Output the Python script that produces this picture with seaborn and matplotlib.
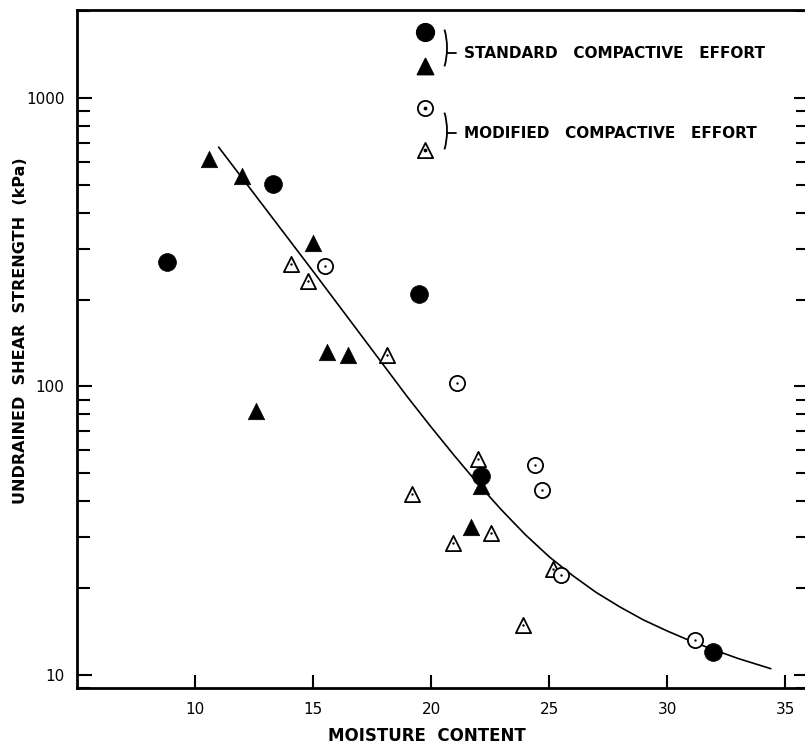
"""Undrained shear strength vs moisture content, standard vs modified compaction."""
import matplotlib
matplotlib.use("Agg")
import matplotlib.pyplot as plt
from matplotlib.patches import Arc
from matplotlib.ticker import LogLocator, NullFormatter, FixedLocator, FixedFormatter
import pandas as pd
import seaborn as sns

# ── data ────────────────────────────────────────────────────────────────────
std_circle_x = [8.8, 13.3, 19.5, 22.1, 31.95]
std_circle_y = [270, 505, 210, 49, 12.0]
std_tri_x = [10.6, 12.0, 15.0, 15.6, 16.5, 12.6, 21.7, 22.1]
std_tri_y = [614, 536, 314, 132, 129, 82, 32.6, 45]
mod_circle_x = [15.5, 21.1, 24.4, 24.7, 25.5, 31.2]
mod_circle_y = [261, 103, 53.6, 43.9, 22.1, 13.2]
mod_tri_x = [14.05, 14.8, 18.15, 19.2, 22.0, 20.95, 22.55, 25.15, 23.9]
mod_tri_y = [265, 232, 129, 42.2, 55.8, 28.7, 31.1, 23.2, 14.9]

# hand-drawn trend curve
curve_x = [11.0, 13.0, 15.0, 17.0, 19.0, 20.0, 21.0, 22.0, 23.0, 24.0,
           25.0, 26.0, 27.0, 28.0, 29.0, 30.0, 31.0, 32.0, 33.0, 34.4]
curve_y = [676, 412, 251, 152, 92, 72.4, 57.4, 45.9, 37.2, 30.6,
           25.7, 22.1, 19.3, 17.2, 15.5, 14.2, 13.1, 12.2, 11.4, 10.5]

x_ticks = [10, 15, 20, 25, 30, 35]
y_ticks = [10, 100, 1000]
y_ticklabels = ["10", "100", "1000"]

XLABEL = "MOISTURE  CONTENT"
YLABEL = "UNDRAINED  SHEAR  STRENGTH  (kPa)"
LEG_STD = "STANDARD   COMPACTIVE   EFFORT"
LEG_MOD = "MODIFIED   COMPACTIVE   EFFORT"

# ── style ───────────────────────────────────────────────────────────────────
sns.set_style("white")
plt.rcParams["font.family"] = ["DejaVu Sans"]
for key in ["text.color", "axes.labelcolor", "xtick.color", "ytick.color",
            "axes.edgecolor"]:
    plt.rcParams[key] = "black"

W, H = 805, 752
fig = plt.figure(figsize=(W / 100, H / 100), dpi=100)
# axes box in pixels: left 77, right 808.6 (right spine falls just off the page)
x0, x1, ytop, ybot = 77, 808.6, 10, 688
ax = fig.add_axes([x0 / W, (H - ybot) / H, (x1 - x0) / W, (ybot - ytop) / H])

df_curve = pd.DataFrame({"x": curve_x, "y": curve_y})
sns.lineplot(data=df_curve, x="x", y="y", sort=False, estimator=None,
             color="black", lw=1.2, ax=ax, zorder=2)

MS_OPEN, MS_FILL = 120, 165
sns.scatterplot(x=mod_tri_x, y=mod_tri_y, marker="^", s=MS_OPEN,
                facecolor="white", edgecolor="black", linewidth=1.3, ax=ax, zorder=3)
sns.scatterplot(x=mod_circle_x, y=mod_circle_y, marker="o", s=MS_OPEN,
                facecolor="white", edgecolor="black", linewidth=1.3, ax=ax, zorder=4)
# small centre dots in the open symbols
sns.scatterplot(x=mod_tri_x + mod_circle_x, y=mod_tri_y + mod_circle_y,
                marker="o", s=3, color="black", linewidth=0, ax=ax, zorder=5)
sns.scatterplot(x=std_tri_x, y=std_tri_y, marker="^", s=140,
                color="black", linewidth=0.5, edgecolor="black", ax=ax, zorder=6)
sns.scatterplot(x=std_circle_x, y=std_circle_y, marker="o", s=MS_FILL,
                color="black", linewidth=0.5, edgecolor="black", ax=ax, zorder=6)

# ── axes ────────────────────────────────────────────────────────────────────
ax.set_yscale("log")
ax.set_xlim(5, 36)
ax.set_ylim(9.0, 2020)

ax.xaxis.set_major_locator(FixedLocator(x_ticks))
ax.yaxis.set_major_locator(FixedLocator(y_ticks))
ax.yaxis.set_major_formatter(FixedFormatter(y_ticklabels))
ax.yaxis.set_minor_locator(LogLocator(base=10, subs=range(2, 10)))
ax.yaxis.set_minor_formatter(NullFormatter())

ax.tick_params(axis="x", which="major", direction="in", length=9.5, width=1.5,
               labelsize=11, pad=10, top=False, bottom=True)
ax.tick_params(axis="y", which="major", direction="in", length=11, width=1.5,
               labelsize=11, pad=9, left=True, right=True)
ax.tick_params(axis="y", which="minor", direction="in", length=9.5, width=1.5,
               left=True, right=True)

for side in ["left", "bottom", "top"]:
    ax.spines[side].set_visible(True)
    ax.spines[side].set_linewidth(2.0)
    ax.spines[side].set_color("black")
ax.spines["right"].set_visible(False)

ax.set_xlabel(XLABEL, fontsize=12, fontweight="bold")
ax.set_ylabel(YLABEL, fontsize=11.5, fontweight="bold")
ax.xaxis.set_label_coords((427 - x0) / (x1 - x0), (ybot - 727) / (ybot - ytop))
ax.xaxis.label.set_va("top")
ax.yaxis.set_label_coords((28 - x0) / (x1 - x0), (ybot - 331) / (ybot - ytop))

# ── legend drawn as in the original: symbols, bracket, dash, caption ───────
aw, ah = x1 - x0, ybot - ytop
def fx(px):
    return (px - x0) / aw
def fy(py):
    return (ybot - py) / ah

leg = ax.transAxes
ax.scatter([fx(425)], [fy(32)], marker="o", s=MS_FILL, color="black",
           transform=leg, clip_on=False, zorder=7)
ax.scatter([fx(425)], [fy(66)], marker="^", s=140, color="black",
           transform=leg, clip_on=False, zorder=7)
ax.scatter([fx(425)], [fy(108)], marker="o", s=MS_OPEN, facecolor="white",
           edgecolor="black", linewidth=1.3, transform=leg, clip_on=False, zorder=7)
ax.scatter([fx(425)], [fy(150)], marker="^", s=MS_OPEN, facecolor="white",
           edgecolor="black", linewidth=1.3, transform=leg, clip_on=False, zorder=7)
ax.scatter([fx(425), fx(425)], [fy(108), fy(150)], marker="o", s=3,
           color="black", transform=leg, clip_on=False, zorder=8)

for cy, ty, label in [(48, 53, LEG_STD), (131, 133, LEG_MOD)]:
    ax.add_patch(Arc((fx(433), fy(cy)), 28 / aw, 64 / ah, theta1=-60, theta2=60,
                     transform=leg, color="black", lw=1.3))
    ax.plot([fx(447), fx(456)], [fy(ty), fy(ty)], color="black", lw=1.3,
            transform=leg)
    ax.text(fx(464), fy(ty), label, transform=leg, ha="left", va="center",
            fontsize=11, fontweight="bold")

fig.savefig("out.png", dpi=100)
